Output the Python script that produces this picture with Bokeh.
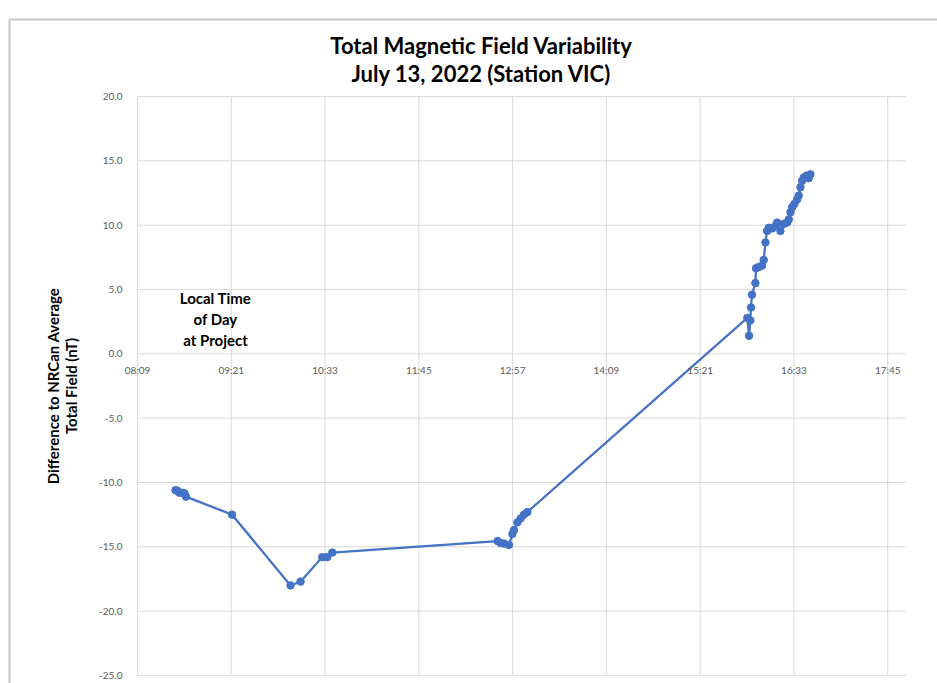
from bokeh.plotting import figure
from bokeh.models import Range1d, FixedTicker, Label, BoxAnnotation, ColumnDataSource
from bokeh.embed import file_html
from bokeh.resources import INLINE

# ---- data ----
times = [
    "08:38:47", "08:40:18", "08:41:50", "08:44:10", "08:45:43", "08:46:50",
    "09:22:12", "10:07:06", "10:14:48", "10:31:27", "10:35:18", "10:39:09",
    "12:46:06", "12:48:24", "12:51:00", "12:54:50", "12:57:24", "12:58:38",
    "13:01:14", "13:03:44", "13:06:17", "13:08:53",
    "15:57:48", "15:59:06", "16:00:05", "16:00:37", "16:01:22", "16:03:59",
    "16:04:30", "16:06:30", "16:09:06", "16:10:22", "16:11:41", "16:12:59",
    "16:14:13", "16:16:50", "16:19:22", "16:20:40", "16:23:12", "16:25:45",
    "16:28:22", "16:29:36", "16:30:55", "16:32:13", "16:33:59", "16:36:02",
    "16:37:17", "16:38:36", "16:39:54", "16:41:08", "16:43:12", "16:44:55",
    "16:46:14",
]
diff_nt = [
    -10.6, -10.65, -10.8, -10.8, -10.85, -11.1,
    -12.5, -18.0, -17.7, -15.8, -15.8, -15.45,
    -14.55, -14.7, -14.75, -14.85, -14.0, -13.7,
    -13.1, -12.8, -12.5, -12.3,
    2.8, 1.4, 2.6, 3.6, 4.6, 5.5,
    6.65, 6.75, 6.85, 7.3, 8.65, 9.55,
    9.8, 9.75, 9.95, 10.2, 9.55, 10.1,
    10.2, 10.45, 11.0, 11.4, 11.65, 12.0,
    12.3, 12.95, 13.45, 13.7, 13.85, 13.65,
    13.95,
]
x_tick_labels = ["08:09", "09:21", "10:33", "11:45", "12:57", "14:09", "15:21", "16:33", "17:45"]
y_ticks = [-25, -20, -15, -10, -5, 0, 5, 10, 15, 20]

title_lines = ["Total Magnetic Field Variability", "July 13, 2022 (Station VIC)"]
y_label = "Difference to NRCan Average\nTotal Field (nT)"
note_text = "Local Time\nof Day\nat Project"


def to_hours(s):
    h, m, sec = (int(v) for v in s.split(":"))
    return h + m / 60 + sec / 3600


hours = [to_hours(t) for t in times]
src = ColumnDataSource(dict(x=hours, y=diff_nt))

# Excel-style time axis: min 0.34 day, major unit 0.05 day (72 min), max 0.75 day
x_min, x_max, step = 0.34 * 24, 0.75 * 24, 0.05 * 24
x_tick_pos = [x_min + i * step for i in range(len(x_tick_labels))]
y_min, y_max = -25, 20

FONT = "Lato"
BLUE = "#4472C4"
GRID = "#D9D9D9"

# page geometry (the whole canvas is the drawing frame)
W, H = 937, 683
PLOT_L, PLOT_R, PLOT_T, PLOT_B = 137, 906, 96, 675   # plot area on the page
hpp = (x_max - x_min) / (PLOT_R - PLOT_L)            # hours per pixel
vpp = (y_max - y_min) / (PLOT_B - PLOT_T)            # nT per pixel


def px2x(px):
    return x_min + (px - PLOT_L) * hpp


def py2y(py):
    return y_max - (py - PLOT_T) * vpp


p = figure(
    width=W, height=H,
    x_range=Range1d(px2x(0), px2x(W)), y_range=Range1d(py2y(H), py2y(0)),
    output_backend="svg", toolbar_location=None,
    min_border=0,
)
p.outline_line_color = None
p.background_fill_color = "white"
p.border_fill_color = "white"
p.title.visible = False

# grid lines limited to the plot area
p.xgrid.grid_line_color = None
p.ygrid.grid_line_color = None
p.segment(x0=x_tick_pos, x1=x_tick_pos, y0=[y_min] * len(x_tick_pos), y1=[y_max] * len(x_tick_pos),
          line_color=GRID, line_width=1)
p.segment(x0=[x_min] * len(y_ticks), x1=[x_max] * len(y_ticks), y0=y_ticks, y1=y_ticks,
          line_color=GRID, line_width=1)

# x axis crossing at 0
xa = p.xaxis[0]
xa.fixed_location = 0
xa.bounds = (x_min, x_max)
xa.ticker = FixedTicker(ticks=x_tick_pos)
xa.major_label_overrides = {pos: lab for pos, lab in zip(x_tick_pos, x_tick_labels)}
xa.axis_line_color = None
xa.major_tick_line_color = None
xa.minor_tick_line_color = None
xa.major_tick_out = 0
xa.major_label_standoff = 10
xa.major_label_text_font = FONT
xa.major_label_text_font_size = "10px"
xa.major_label_text_color = "#595959"

# y axis at the left edge of the plot area
ya = p.yaxis[0]
ya.fixed_location = x_min
ya.bounds = (y_min, y_max)
ya.ticker = FixedTicker(ticks=y_ticks)
ya.major_label_overrides = {v: f"{v:.1f}" for v in y_ticks}
ya.axis_line_color = None
ya.major_tick_line_color = None
ya.minor_tick_line_color = None
ya.major_tick_out = 0
ya.major_label_standoff = 15
ya.major_label_text_font = FONT
ya.major_label_text_font_size = "10px"
ya.major_label_text_color = "#595959"
ya.axis_label = y_label
ya.axis_label_text_font = FONT
ya.axis_label_text_font_style = "bold"
ya.axis_label_text_font_size = "15px"
ya.axis_label_text_line_height = 1.0
ya.axis_label_text_color = "black"
ya.axis_label_standoff = 16

# data
p.line("x", "y", source=src, line_color=BLUE, line_width=2.25)
p.scatter("x", "y", source=src, size=7.5, fill_color=BLUE, line_color=BLUE)

# chart box border (left and top edges fall inside the canvas)
p.add_layout(BoxAnnotation(left=px2x(9), right=px2x(W + 40), top=py2y(19), bottom=py2y(H + 40),
                           fill_color=None, fill_alpha=0, line_color="#404040", line_width=2))

# two-line title
for i, t in enumerate(title_lines):
    p.add_layout(Label(x=px2x(481), y=py2y(45 + 28 * i), text=t,
                       text_align="center", text_baseline="middle",
                       text_font=FONT, text_font_style="bold",
                       text_font_size="22px", text_color="black"))

# annotation
p.add_layout(Label(x=to_hours("09:09:30"), y=2.7, text=note_text,
                   text_align="center", text_baseline="middle",
                   text_font=FONT, text_font_style="bold",
                   text_font_size="15px", text_color="black", text_line_height=1.15))

open("out.html", "w").write(file_html(p, INLINE))
